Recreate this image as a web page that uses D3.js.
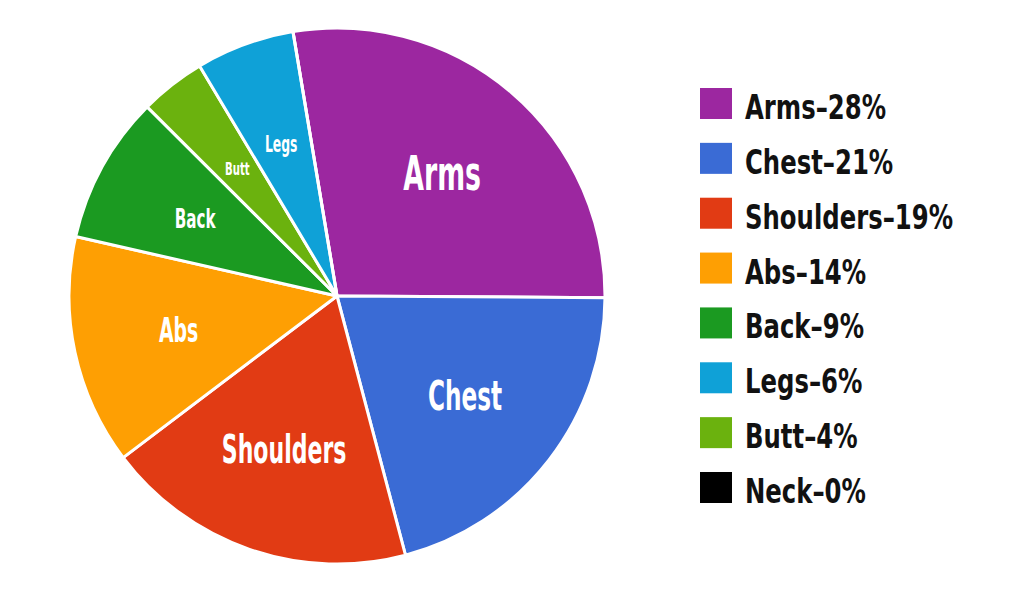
<!DOCTYPE html>
<html>
<head>
  <meta charset="utf-8">
  <script src="https://d3js.org/d3.v7.min.js"></script>
  <style>
    body { margin: 0; background: #fff; }
    text { font-family: "Liberation Sans Narrow", "DejaVu Sans Condensed", sans-serif; font-weight: bold; }
  </style>
</head>
<body>
  <div id="chart"></div>
<script>

  // data
  var categories = ["Arms", "Chest", "Shoulders", "Abs", "Back", "Legs", "Butt", "Neck"];
  var percents   = [28, 21, 19, 14, 9, 6, 4, 0];
  var colors     = ["#9c27a0", "#3a6bd5", "#e13b14", "#fe9f03", "#1b9a21", "#0fa1d7", "#6bb20e", "#000000"];

  // pie slices go clockwise in this order
  var sliceOrder = ["Arms", "Chest", "Shoulders", "Abs", "Back", "Butt", "Legs", "Neck"];

  var width = 1024, height = 591;
  var cx = 337, cy = 296, radius = 268;

  var svg = d3.select("#chart")
    .append("svg")
      .attr("width", width)
      .attr("height", height);

  var color = d3.scaleOrdinal().domain(categories).range(colors);
  var value = {};
  categories.forEach(function(c, i) { value[c] = percents[i]; });

  var pie = d3.pie()
    .sort(null)
    .startAngle(-0.165)
    .endAngle(2 * Math.PI - 0.165)
    .value(function(d) { return value[d]; });

  var arc = d3.arc().innerRadius(0).outerRadius(radius);
  var labelArc = d3.arc().innerRadius(162).outerRadius(162);

  // label size grows with the slice
  var fontSize = d3.scaleSqrt().domain([0, 28]).range([0, 48]);

  var g = svg.append("g")
    .attr("transform", "translate(" + cx + "," + cy + ")");

  var arcs = pie(sliceOrder);

  g.selectAll("path")
    .data(arcs)
    .enter().append("path")
      .attr("d", arc)
      .attr("fill", function(d) { return color(d.data); })
      .attr("stroke", "#fff")
      .attr("stroke-width", 3)
      .attr("stroke-linejoin", "round");

  g.selectAll("text.slice")
    .data(arcs.filter(function(d) { return value[d.data] > 0; }))
    .enter().append("text")
      .attr("class", "slice")
      .attr("transform", function(d) {
        var c = labelArc.centroid(d);
        return "translate(" + c[0] + "," + c[1] + ") scale(0.62,1)";
      })
      .attr("text-anchor", "middle")
      .attr("dy", "0.36em")
      .attr("fill", "#fff")
      .style("font-size", function(d) { return fontSize(value[d.data]) + "px"; })
      .text(function(d) { return d.data; });

  // legend
  var legendY = d3.scalePoint().domain(categories).range([88, 472]);

  var legend = svg.append("g")
    .selectAll("g")
    .data(categories)
    .enter().append("g")
      .attr("transform", function(d) { return "translate(700," + legendY(d) + ")"; });

  legend.append("rect")
    .attr("width", 32)
    .attr("height", 31)
    .attr("fill", function(d) { return color(d); });

  legend.append("text")
    .attr("transform", "translate(45,31) scale(0.82,1)")
    .attr("fill", "#111")
    .style("font-size", "33px")
    .text(function(d) { return d + "\u2013" + value[d] + "%"; });

</script>
</body>
</html>
